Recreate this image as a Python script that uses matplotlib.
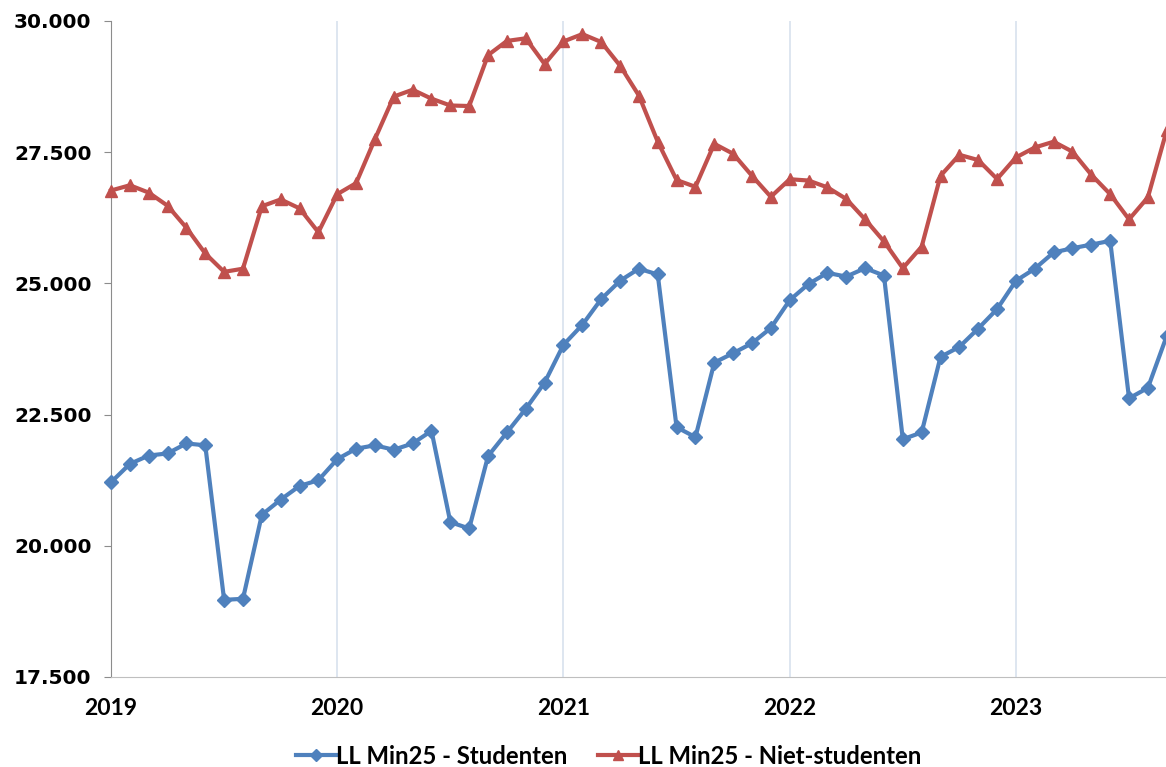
import numpy as np
import matplotlib
matplotlib.use("Agg")
import matplotlib.pyplot as plt
from matplotlib.ticker import FuncFormatter

# monthly values, Jan 2019 .. Sep 2023
years = ["2019", "2020", "2021", "2022", "2023"]

studenten = [
    21210, 21560, 21720, 21760, 21950, 21915, 18970, 18990, 20590, 20880, 21140, 21250,
    21650, 21850, 21915, 21830, 21950, 22190, 20450, 20330, 21710, 22160, 22610, 23110,
    23830, 24210, 24700, 25050, 25280, 25170, 22260, 22070, 23490, 23670, 23860, 24150,
    24680, 24990, 25200, 25130, 25290, 25150, 22030, 22160, 23600, 23790, 24140, 24510,
    25050, 25280, 25590, 25670, 25740, 25810, 22810, 23010, 24000,
]

niet_studenten = [
    26770, 26870, 26730, 26480, 26060, 25570, 25220, 25280, 26470, 26600, 26430, 25975,
    26700, 26910, 27750, 28560, 28690, 28520, 28390, 28380, 29350, 29620, 29670, 29180,
    29610, 29750, 29600, 29150, 28580, 27700, 26970, 26840, 27660, 27470, 27050, 26650,
    26985, 26960, 26830, 26610, 26220, 25800, 25290, 25700, 27050, 27450, 27350, 26990,
    27400, 27590, 27700, 27510, 27070, 26700, 26220, 26640, 27920,
]

blue = "#4F81BD"
red = "#C0504D"

x = np.arange(len(studenten))

fig = plt.figure(figsize=(11.66, 7.67), dpi=100)
ax = fig.add_axes([111 / 1166, 90 / 767, 1055 / 1166, 656 / 767])

ax.plot(x, studenten, color=blue, lw=3, marker="D", ms=7.5, mec=blue, mfc=blue,
        label="LL Min25 - Studenten", clip_on=False, zorder=3)
ax.plot(x, niet_studenten, color=red, lw=3, marker="^", ms=9, mec=red, mfc=red,
        label="LL Min25 - Niet-studenten", clip_on=False, zorder=3)

ax.set_ylim(17500, 30000)
ax.set_yticks(np.arange(17500, 30001, 2500))
ax.yaxis.set_major_formatter(FuncFormatter(lambda v, p: f"{int(v):,}".replace(",", ".")))
ax.set_xlim(0, 55.96)
ax.set_xticks(np.arange(0, len(years) * 12, 12))
ax.set_xticklabels(years)

ax.grid(axis="x", color="#d8e2ee", lw=1.2)
ax.set_axisbelow(True)

for s in ["top", "right"]:
    ax.spines[s].set_visible(False)
ax.spines["left"].set_color("#8c8c8c")
ax.spines["bottom"].set_color("#bfbfbf")

ax.tick_params(axis="y", length=5, color="#8c8c8c", pad=9)
ax.tick_params(axis="x", length=0, pad=15)
for lab in ax.get_yticklabels():
    lab.set_fontfamily("DejaVu Sans")
    lab.set_fontweight("bold")
    lab.set_fontsize(14.5)
for lab in ax.get_xticklabels():
    lab.set_fontfamily(["Lato", "DejaVu Sans"])
    lab.set_fontweight("bold")
    lab.set_fontsize(16.5)

handles, labels = ax.get_legend_handles_labels()
fig.legend(handles, labels, loc="center", bbox_to_anchor=(0.522, 0.014), ncol=2,
           frameon=False, handlelength=1.65, handletextpad=0.0, columnspacing=1.3,
           prop={"family": ["Lato", "DejaVu Sans"], "weight": "bold", "size": 17.2},
           markerscale=0.8)

fig.savefig("out.png", dpi=100)
